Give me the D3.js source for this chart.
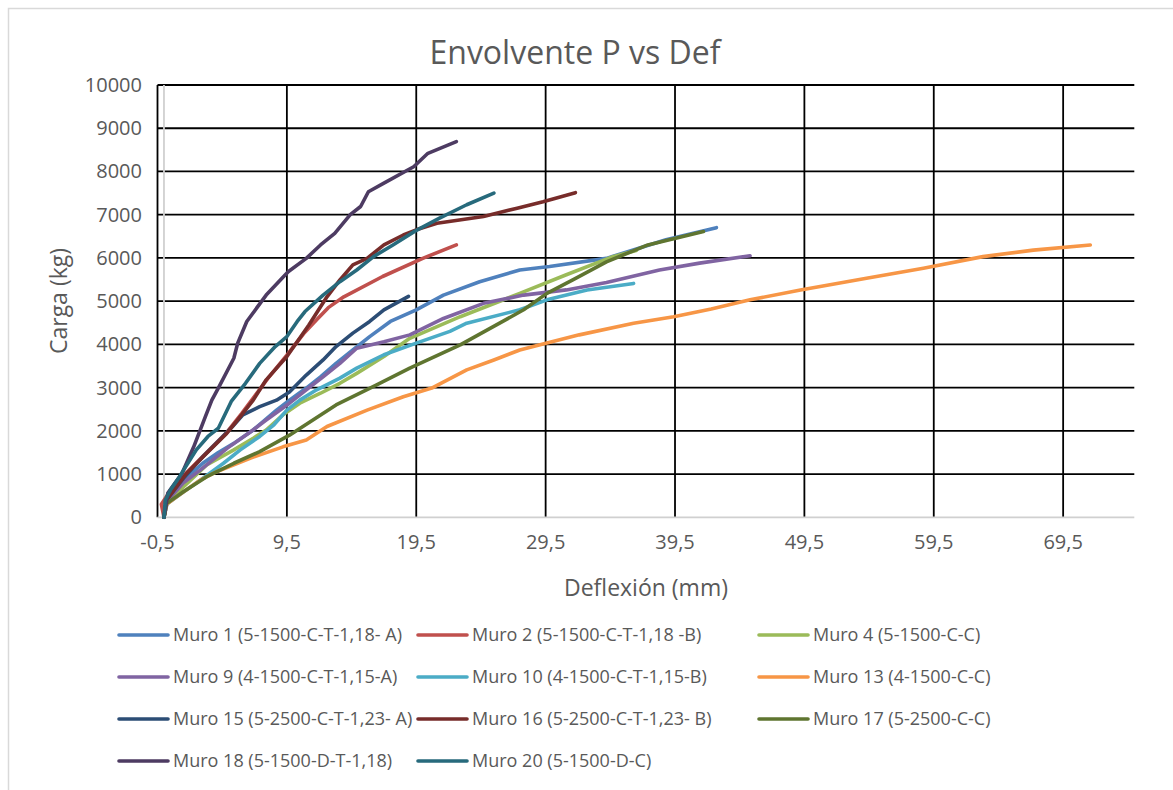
<!DOCTYPE html>
<html>
<head>
<meta charset="utf-8">
<script src="https://cdn.jsdelivr.net/npm/d3@7"></script>
<style>
  body { margin: 0; background: #fff; }
  text { font-family: "Open Sans", "Noto Sans", sans-serif; fill: #595959; }
</style>
</head>
<body>
<div id="main"></div>
<script>
const w = 1173;
const h = 790;

// deflexion (mm), carga (kg) per wall
const muro1  = [[0,0],[0.3,450],[1.5,850],[3.0,1250],[4.2,1500],[5.4,1710],[6.9,2020],[8.7,2480],[9.7,2710],[11.0,2990],[12.1,3250],[13.3,3560],[14.6,3870],[15.9,4180],[17.5,4530],[19.5,4800],[21.6,5140],[24.4,5450],[27.5,5720],[29.8,5800],[34.2,5990],[38.8,6420],[42.7,6700]];
const muro2  = [[0,0],[-0.2,300],[0.5,620],[1.8,1050],[3.3,1500],[4.9,1980],[6.0,2400],[7.0,2800],[8.0,3200],[9.5,3750],[10.8,4250],[11.8,4570],[12.7,4850],[13.9,5100],[16.9,5570],[20.0,5990],[22.6,6300]];
const muro4  = [[0,0],[0.2,300],[1.5,700],[3.3,1210],[5.4,1560],[6.9,1830],[7.9,2020],[9.2,2370],[10.5,2640],[12.1,2870],[13.6,3100],[14.9,3330],[17.0,3720],[19.0,4140],[22.9,4640],[27.5,5180],[31.1,5610],[34.7,6030],[36.5,6170]];
const muro9  = [[0,0],[0.3,400],[1.5,800],[2.8,1090],[4.9,1600],[6.7,1980],[7.9,2250],[9.7,2640],[11.0,2950],[12.3,3250],[13.6,3560],[14.9,3910],[17.0,4060],[19.0,4220],[21.6,4600],[24.7,4950],[27.8,5140],[31.1,5260],[34.2,5430],[38.3,5720],[41.4,5880],[45.3,6050]];
const muro10 = [[0,0],[0.2,300],[1.2,520],[2.8,860],[4.6,1250],[5.9,1560],[7.4,1870],[8.5,2140],[9.5,2480],[10.5,2710],[11.8,2950],[13.6,3220],[14.9,3450],[17.0,3760],[19.5,4030],[22.1,4300],[23.4,4490],[27.5,4800],[29.6,5030],[32.7,5260],[36.3,5410]];
const muro13 = [[0,0],[0.2,300],[1.0,480],[2.8,860],[4.1,1060],[6.7,1370],[9.2,1630],[11.0,1790],[12.6,2100],[15.7,2480],[18.5,2790],[20.7,2990],[23.4,3410],[25.5,3640],[27.5,3870],[29.6,4030],[32.1,4220],[36.3,4490],[39.4,4640],[42.3,4820],[45.3,5030],[49.2,5260],[54.3,5530],[58.7,5760],[63.3,6030],[67.2,6180],[71.6,6300]];
const muro15 = [[0,0],[0.2,400],[1.5,900],[3.0,1400],[4.5,1850],[5.3,2100],[6.1,2370],[7.4,2560],[8.7,2710],[9.7,2900],[11.0,3290],[12.3,3640],[13.3,3950],[14.6,4260],[15.9,4530],[17.0,4800],[18.9,5110]];
const muro16 = [[0,0],[0.2,400],[1.75,1020],[3.3,1480],[4.85,1940],[5.9,2330],[6.9,2710],[7.9,3180],[9.5,3720],[11.2,4450],[12.6,5100],[13.6,5490],[14.6,5840],[15.7,5990],[17.0,6300],[18.5,6530],[19.5,6650],[21.1,6800],[24.7,6960],[27.3,7150],[29.3,7300],[31.8,7510]];
const muro17 = [[0,0],[0.2,320],[1.5,590],[3.3,940],[5.4,1250],[7.4,1520],[9.7,1900],[13.3,2600],[16.4,3060],[19.0,3450],[22.9,3990],[27.8,4800],[29.6,5180],[31.6,5490],[34.2,5910],[37.4,6300],[41.7,6610]];
const muro18 = [[0,0],[0.3,560],[1.4,1020],[2.3,1630],[3.2,2330],[3.7,2710],[4.2,2990],[5.4,3680],[5.7,4030],[6.4,4530],[7.9,5140],[9.6,5680],[11.0,5990],[12.1,6300],[13.2,6570],[14.4,7000],[15.2,7190],[15.8,7530],[17.0,7730],[19.3,8110],[20.4,8420],[22.6,8690]];
const muro20 = [[0,0],[0.1,400],[0.5,630],[1.2,940],[2.5,1560],[3.4,1870],[4.2,2060],[5.2,2680],[6.3,3100],[7.4,3560],[8.6,3950],[9.5,4180],[10.3,4530],[10.9,4760],[12.3,5140],[13.6,5450],[14.9,5720],[16.2,6030],[17.7,6300],[19.4,6620],[21.3,6920],[23.4,7230],[25.5,7500]];

const seriesNames = ["Muro 1 (5-1500-C-T-1,18- A)","Muro 2 (5-1500-C-T-1,18 -B)","Muro 4 (5-1500-C-C)",
  "Muro 9 (4-1500-C-T-1,15-A)","Muro 10 (4-1500-C-T-1,15-B)","Muro 13 (4-1500-C-C)",
  "Muro 15 (5-2500-C-T-1,23- A)","Muro 16 (5-2500-C-T-1,23- B)","Muro 17 (5-2500-C-C)",
  "Muro 18 (5-1500-D-T-1,18)","Muro 20 (5-1500-D-C)"];
const seriesValues = [muro1, muro2, muro4, muro9, muro10, muro13, muro15, muro16, muro17, muro18, muro20];
const seriesColors = ["#4f81bd","#c0504d","#9bbb59","#8064a2","#4bacc6","#f79646",
  "#2c4d75","#772c2a","#5f7530","#4d3b62","#276a7c"];

const xTicks = [-0.5, 9.5, 19.5, 29.5, 39.5, 49.5, 59.5, 69.5];
const yTicks = [0,1000,2000,3000,4000,5000,6000,7000,8000,9000,10000];

const svg = d3.select("#main").append("svg")
  .attr("width", w)
  .attr("height", h);

// chart border
svg.append("rect")
  .attr("x", 8.5).attr("y", 8.5)
  .attr("width", 1180).attr("height", 800)
  .attr("fill", "none")
  .attr("stroke", "#d9d9d9")
  .attr("stroke-width", 1.5);

const x = d3.scaleLinear().domain([-0.5, 75]).range([157.5, 1134.3]);
const y = d3.scaleLinear().domain([0, 10000]).range([517.3, 85]);

const fmt = d => String(d).replace(".", ",");

// vertical grid
svg.append("g").selectAll("line")
  .data(xTicks)
  .enter().append("line")
  .attr("x1", d => x(d)).attr("x2", d => x(d))
  .attr("y1", y(10000)).attr("y2", y(0))
  .attr("stroke", "#000").attr("stroke-width", 1.8);

// horizontal grid
svg.append("g").selectAll("line")
  .data(yTicks.filter(d => d > 0))
  .enter().append("line")
  .attr("x1", x(-0.5)).attr("x2", x(75))
  .attr("y1", d => y(d)).attr("y2", d => y(d))
  .attr("stroke", "#000").attr("stroke-width", 1.8);

// axis lines (light gray)
svg.append("line")
  .attr("x1", x(-0.5)).attr("x2", x(75))
  .attr("y1", y(0)).attr("y2", y(0))
  .attr("stroke", "#d0d0d0").attr("stroke-width", 1.8);
svg.append("line")
  .attr("x1", x(0)).attr("x2", x(0))
  .attr("y1", y(10000)).attr("y2", y(0))
  .attr("stroke", "#d0d0d0").attr("stroke-width", 1.8);

// tick labels
svg.append("g").selectAll("text")
  .data(yTicks)
  .enter().append("text")
  .attr("x", 142)
  .attr("y", d => y(d))
  .attr("dy", "0.35em")
  .attr("text-anchor", "end")
  .style("font-size", "20px")
  .text(d => d);

svg.append("g").selectAll("text")
  .data(xTicks)
  .enter().append("text")
  .attr("x", d => x(d))
  .attr("y", 549)
  .attr("text-anchor", "middle")
  .style("font-size", "20px")
  .text(d => fmt(d));

// lines
const line = d3.line().x(d => x(d[0])).y(d => y(d[1]));

svg.append("g").selectAll("path")
  .data(seriesValues)
  .enter().append("path")
  .attr("d", line)
  .attr("fill", "none")
  .attr("stroke", (d, i) => seriesColors[i])
  .attr("stroke-width", 3.6)
  .attr("stroke-linejoin", "round")
  .attr("stroke-linecap", "round");

// titles
svg.append("text")
  .attr("x", 575).attr("y", 64)
  .attr("text-anchor", "middle")
  .style("font-size", "32px")
  .text("Envolvente P vs Def");

svg.append("text")
  .attr("transform", "translate(67,301) rotate(-90)")
  .attr("text-anchor", "middle")
  .style("font-size", "23px")
  .text("Carga (kg)");

svg.append("text")
  .attr("x", 646).attr("y", 596)
  .attr("text-anchor", "middle")
  .style("font-size", "23px")
  .text("Deflexión (mm)");

// legend
const legendX = [118, 417, 758];
const legendY = [635, 677, 719, 761];

const legend = svg.append("g").selectAll("g")
  .data(seriesNames)
  .enter().append("g")
  .attr("transform", (d, i) => "translate(" + legendX[i % 3] + "," + legendY[Math.floor(i / 3)] + ")");

legend.append("line")
  .attr("x1", 1).attr("x2", 50)
  .attr("stroke", (d, i) => seriesColors[i])
  .attr("stroke-width", 3.6)
  .attr("stroke-linecap", "round");

legend.append("text")
  .attr("x", 55)
  .attr("dy", "0.35em")
  .style("font-size", "18px")
  .text(d => d);
</script>
</body>
</html>
